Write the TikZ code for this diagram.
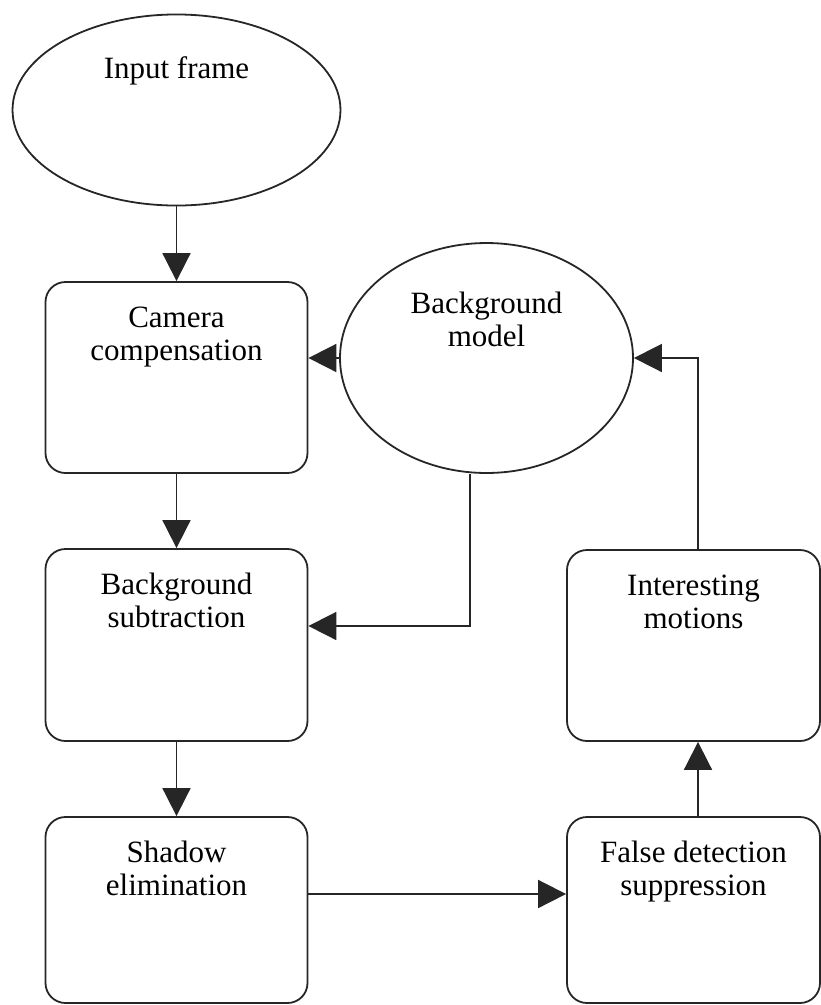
\documentclass[tikz,border=0pt]{standalone}
\usepackage{fontspec}
\setmainfont{Liberation Serif}
\usetikzlibrary{arrows.meta,shapes.geometric}
\newcommand\boxtext[4]{\parbox[t][#2][t]{#1}{\centering\rule{0pt}{#3}#4}}
\begin{document}
\begin{tikzpicture}[x=1pt,y=-1pt,
  lbl/.style={font=\fontsize{31}{33}\selectfont, text=black},
  procbox/.style={rectangle, draw=black!85, line width=1.8pt, rounded corners=20pt, inner sep=0pt, lbl},
  oval/.style={ellipse, draw=black!85, line width=1.8pt, inner sep=0pt, lbl},
  conn/.style={draw=black!85, line width=1.8pt, -{Triangle[length=28pt,width=28pt]}}]
\useasboundingbox (0,0) rectangle (821,1005);

\node[oval] (inp) at (176.5,110) {\boxtext{231.9pt}{135.1pt}{36.5pt}{Input frame}};
\node[procbox] (cam) at (176.5,377.5) {\boxtext{262pt}{191pt}{45pt}{Camera\\compensation}};
\node[oval] (bgm) at (486.5,358) {\boxtext{207.2pt}{162.6pt}{36.3pt}{Background\\model}};
\node[procbox] (bs) at (176.5,645) {\boxtext{262pt}{192pt}{45pt}{Background\\subtraction}};
\node[procbox] (sh) at (176.5,910) {\boxtext{262pt}{186pt}{45pt}{Shadow\\elimination}};
\node[procbox] (im) at (693.5,645.5) {\boxtext{253pt}{191pt}{45pt}{Interesting\\motions}};
\node[procbox] (fds) at (693.5,910) {\boxtext{253pt}{186pt}{45pt}{False detection\\suppression}};

\coordinate (bmf) at ([xshift=-16.5pt]bgm.south);
\coordinate (bsin) at ([yshift=19pt]bs.east);

\draw[conn] (inp.south) -- (cam.north);
\draw[conn] (bgm.west) -- (bgm.west -| cam.east);
\draw[conn] (cam.south) -- (bs.north);
\draw[conn] (bmf) |- (bsin);
\draw[conn] (bs.south) -- (sh.north);
\draw[conn] ([yshift=16pt]sh.east) -- ([yshift=16pt]fds.west);
\draw[conn] ([xshift=4.5pt]fds.north) -- ([xshift=4.5pt]im.south);
\draw[conn] ([xshift=4.5pt]im.north) |- (bgm.east);
\end{tikzpicture}
\end{document}
